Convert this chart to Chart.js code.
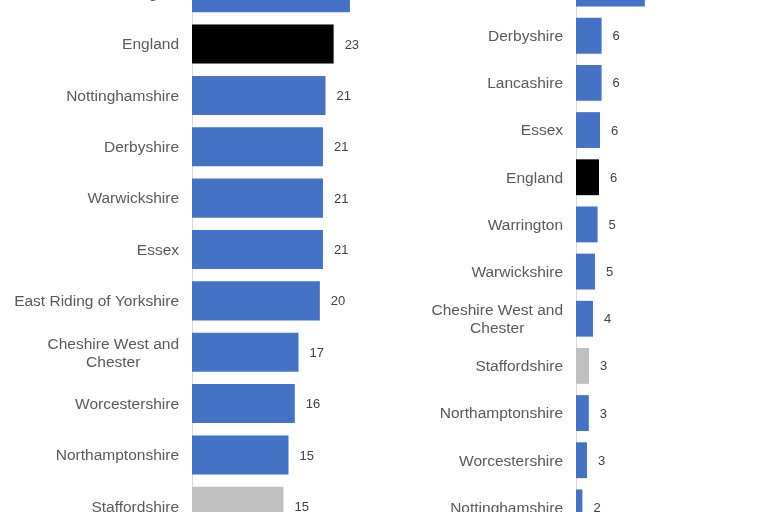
<!DOCTYPE html>
<html>
<head>
<meta charset="utf-8">
<script src="https://cdn.jsdelivr.net/npm/chart.js@4"></script>
<style>
  html, body { margin: 0; padding: 0; background: #fff; width: 768px; height: 512px; overflow: hidden; }
  .panel { position: absolute; width: 384px; }
  #leftPanel { left: 0; top: -33px; height: 565px; }
  #rightPanel { left: 384px; top: -35px; height: 566px; }
</style>
</head>
<body>
<div class="panel" id="leftPanel"><canvas id="leftChart" width="384" height="565"></canvas></div>
<div class="panel" id="rightPanel"><canvas id="rightChart" width="384" height="566"></canvas></div>
<script>
// Left panel (image is cropped at top and bottom)
const leftCategories = ['Warrington', 'England', 'Nottinghamshire', 'Derbyshire', 'Warwickshire', 'Essex',
    'East Riding of Yorkshire', ['Cheshire West and', 'Chester'], 'Worcestershire', 'Northamptonshire', 'Staffordshire'];
const leftValues = [25.2, 22.6, 21.3, 20.9, 20.9, 20.9, 20.4, 17.0, 16.4, 15.4, 14.6];

// Right panel
const rightCategories = ['East Riding of Yorkshire', 'Derbyshire', 'Lancashire', 'Essex', 'England', 'Warrington',
    'Warwickshire', ['Cheshire West and', 'Chester'], 'Staffordshire', 'Northamptonshire', 'Worcestershire', 'Nottinghamshire'];
const rightValues = [17.2, 6.4, 6.4, 6.0, 5.75, 5.4, 4.75, 4.25, 3.25, 3.2, 2.75, 1.6];

const BLUE = '#4472C4';
const BLACK = '#000000';
const GREY = '#BFBFBF';

function barColour(cat) {
    if (cat === 'England') return BLACK;
    if (cat === 'Staffordshire') return GREY;
    return BLUE;
}

// draws category labels (right aligned block, lines centred) and value labels
const labelPlugin = {
    id: 'barLabels',
    afterDatasetsDraw(chart) {
        const ctx = chart.ctx;
        const yScale = chart.scales.y;
        const meta = chart.getDatasetMeta(0);
        const values = chart.data.datasets[0].data;
        ctx.save();
        ctx.textBaseline = 'middle';
        ctx.font = '15.5px "Liberation Sans", Arial, sans-serif';
        ctx.fillStyle = '#595959';
        ctx.textAlign = 'center';
        chart.data.labels.forEach((label, i) => {
            const lines = Array.isArray(label) ? label : [label];
            const y = yScale.getPixelForValue(i) + 1;
            const maxW = Math.max(...lines.map(l => ctx.measureText(l).width));
            const cx = chart.chartArea.left - 13 - maxW / 2;
            lines.forEach((l, j) => {
                ctx.fillText(l, cx, y + (j - (lines.length - 1) / 2) * 18);
            });
        });
        ctx.font = '13px "Liberation Sans", Arial, sans-serif';
        ctx.fillStyle = '#404040';
        ctx.textAlign = 'left';
        meta.data.forEach((bar, i) => {
            ctx.fillText(String(Math.round(values[i])), bar.x + 11, bar.y + 1);
        });
        ctx.restore();
    }
};

function makeChart(id, categories, values, maxX, padRight) {
    const ctx = document.getElementById(id);
    return new Chart(ctx, {
        type: 'bar',
        data: {
            labels: categories,
            datasets: [{
                data: values,
                backgroundColor: categories.map(barColour),
                borderWidth: 0,
                categoryPercentage: 1,
                barPercentage: 0.76
            }]
        },
        options: {
            indexAxis: 'y',
            responsive: false,
            animation: false,
            devicePixelRatio: 1,
            layout: { padding: { left: 0, right: padRight, top: 0, bottom: 0 } },
            plugins: {
                legend: { display: false },
                tooltip: { enabled: false }
            },
            scales: {
                x: {
                    display: false,
                    min: 0,
                    max: maxX
                },
                y: {
                    grid: { display: false },
                    border: { display: true, color: '#D9D9D9', width: 1 },
                    ticks: { display: false },
                    afterFit: function(scale) { scale.width = 192; }
                }
            }
        },
        plugins: [labelPlugin]
    });
}

makeChart('leftChart', leftCategories, leftValues, 30, 4);
makeChart('rightChart', rightCategories, rightValues, 48, 0);
</script>
</body>
</html>
